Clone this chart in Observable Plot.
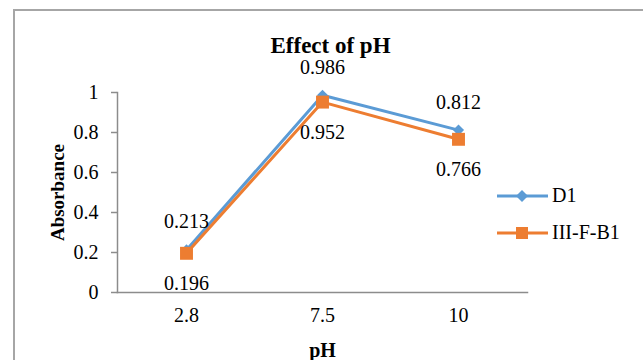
<!DOCTYPE html>
<html><head><meta charset="utf-8">
<script src="https://cdn.jsdelivr.net/npm/d3@7"></script>
<script src="https://cdn.jsdelivr.net/npm/@observablehq/plot@0.6"></script>
<style>
html,body{margin:0;padding:0;background:#fff;overflow:hidden;}
#wrap{position:relative;width:643px;height:360px;font-family:"Liberation Serif","Times New Roman",serif;}
#border{position:absolute;left:13px;top:9px;width:700px;height:400px;border:2px solid #a6a6a6;box-sizing:border-box;}
#chart{position:absolute;left:0;top:0;}
#chart svg text{font-family:"Liberation Serif","Times New Roman",serif;}
#legend{position:absolute;left:497px;top:177px;font-size:20px;color:#000;}
#legend .item{display:flex;align-items:center;height:37px;}
#legend svg{display:block;margin-right:4px;}
</style></head>
<body><div id="wrap"><div id="border"></div><div id="chart"></div><div id="legend"></div></div>
<script>
const title = "Effect of pH";
const xLabel = "pH";
const yLabel = "Absorbance";
const categories = ["2.8", "7.5", "10"];
const seriesNames = ["D1", "III-F-B1"];
const d1Values = [0.213, 0.986, 0.812];
const iiifb1Values = [0.196, 0.952, 0.766];
const yTicks = [0, 0.2, 0.4, 0.6, 0.8, 1];
const yTickLabels = ["0", "0.2", "0.4", "0.6", "0.8", "1"];
const colors = ["#5B9BD5", "#ED7D31"];

const data = categories.flatMap((c, i) => [
  {pH: c, series: seriesNames[0], value: d1Values[i]},
  {pH: c, series: seriesNames[1], value: iiifb1Values[i]}
]);
const d1 = data.filter(d => d.series === seriesNames[0]);
const f1 = data.filter(d => d.series === seriesNames[1]);
const font = "Liberation Serif";

const chart = Plot.plot({
  width: 643, height: 360,
  marginLeft: 117, marginRight: 116, marginTop: 92, marginBottom: 68,
  style: {background: "transparent", fontFamily: font, fontSize: "20px", color: "#000", overflow: "visible"},
  x: {type: "point", domain: categories, padding: 0.5, axis: null},
  y: {domain: [0, 1], axis: null},
  color: {domain: seriesNames, range: colors},
  marks: [
    Plot.frame({anchor: "left", stroke: "#8c8c8c", strokeWidth: 1.5}),
    Plot.frame({anchor: "bottom", stroke: "#8c8c8c", strokeWidth: 1.5}),
    Plot.axisY(yTicks, {tickFormat: d => yTickLabels[yTicks.indexOf(d)], tickSize: 6, tickPadding: 13, stroke: "#8c8c8c", strokeWidth: 1.5, fill: "#000", fontSize: 20, fontFamily: font, fontVariant: "normal", label: null}),
    Plot.axisX({tickSize: 0, tickPadding: 15, fill: "#000", fontSize: 20, fontFamily: font, fontVariant: "normal", label: null}),
    Plot.line(data, {x: "pH", y: "value", z: "series", stroke: "series", strokeWidth: 3}),
    Plot.dot(d1, {x: "pH", y: "value", symbol: "diamond2", r: 5, fill: colors[0], stroke: null}),
    Plot.dot(f1, {x: "pH", y: "value", symbol: "square", r: 7.3, fill: colors[1], stroke: null}),
    Plot.text(d1, {x: "pH", y: "value", text: d => String(d.value), dy: -28, fontSize: 20, fontFamily: font, fill: "#000", lineAnchor: "middle"}),
    Plot.text(f1, {x: "pH", y: "value", text: d => String(d.value), dy: 30, fontSize: 20, fontFamily: font, fill: "#000", lineAnchor: "middle"}),
    Plot.text([title], {frameAnchor: "top", dx: 8, dy: -47, text: d => d, fontWeight: "bold", fontSize: 23, fontFamily: font, fill: "#000", textAnchor: "middle", lineAnchor: "middle"}),
    Plot.text([yLabel], {frameAnchor: "left", dx: -60, rotate: -90, text: d => d, fontWeight: "bold", fontSize: 19, fontFamily: font, fill: "#000", textAnchor: "middle", lineAnchor: "middle"}),
    Plot.text([xLabel], {frameAnchor: "bottom", dy: 58, text: d => d, fontWeight: "bold", fontSize: 20, fontFamily: font, fill: "#000", textAnchor: "middle", lineAnchor: "middle"})
  ]
});
document.getElementById("chart").appendChild(chart);

const legend = document.getElementById("legend");
seriesNames.forEach((name, i) => {
  const item = document.createElement("div");
  item.className = "item";
  const marker = i === 0
    ? `<path d="M25,1 L31,7 L25,13 L19,7 Z" fill="${colors[i]}"/>`
    : `<rect x="19" y="1" width="12" height="12" fill="${colors[i]}"/>`;
  item.innerHTML = `<svg width="51" height="14"><line x1="0" y1="7" x2="51" y2="7" stroke="${colors[i]}" stroke-width="3"/>${marker}</svg><span>${name}</span>`;
  legend.appendChild(item);
});
</script>
</body></html>
